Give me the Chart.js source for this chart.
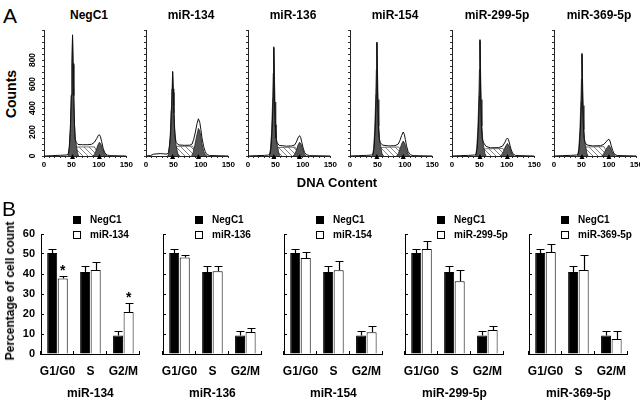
<!DOCTYPE html>
<html>
<head>
<meta charset="utf-8">
<script src="https://cdn.jsdelivr.net/npm/chart.js@4.4.1/dist/chart.umd.min.js"></script>
<style>
  body { margin: 0; background: #fff; width: 640px; height: 403px; position: relative; overflow: hidden;
         font-family: "Liberation Sans", Arial, sans-serif; }
  canvas { position: absolute; }
  .t { position: absolute; white-space: nowrap; transform: translate(-50%, -50%); color: #000; font-weight: bold; line-height: 1; }
  .sq { position: absolute; width: 8px; height: 8px; box-sizing: border-box; border: 1px solid #000; }
</style>
</head>
<body>
<script>
// ---- panel A: DNA content histograms ([DNA content, counts]) ----
const histNames = ['NegC1', 'miR-134', 'miR-136', 'miR-154', 'miR-299-5p', 'miR-369-5p'];
const g1Peaks = [52, 48.5, 47, 49, 51, 51];
const g2Peaks = [101, 95.5, 94, 97, 101, 100];
const histTicks = [0, 200, 400, 600, 800];

const negc1Total = [[0,0],[15,3],[30,6],[40,8],[44,12],[46,70],[48,230],[49.8,510],[51,770],[52,1010],[53,770],[54.2,510],[55.5,270],[57,140],[59,110],[62,96],[70,94],[80,94],[87,98],[92,115],[96,145],[99,172],[101,177],[103,160],[105,120],[108,60],[111,25],[115,8],[120,3],[150,0]];
const negc1G1 = [[44,0],[46,60],[48,220],[49.8,500],[51,760],[52,1000],[53,760],[54.2,500],[55.5,260],[57,130],[59,90],[61,30],[63,0]];
const negc1S = [[55,0],[58,75],[92,76],[100,0]];
const negc1G2 = [[89,0],[92,15],[95,45],[98,90],[101,115],[104,95],[107,55],[110,20],[113,5],[115,0]];

const mir134Total = [[0,0],[8,4],[14,15],[20,18],[26,20],[32,18],[38,16],[41,30],[43,90],[45,200],[46.5,420],[47.5,560],[48.5,705],[49.5,560],[50.5,420],[52,230],[53.5,150],[55,110],[60,92],[70,89],[80,90],[84,100],[87,140],[90,200],[93,270],[95.5,310],[98,280],[100,220],[102,150],[105,80],[108,35],[111,12],[116,4],[150,0]];
const mir134G1 = [[40,0],[42,50],[44,150],[46,380],[47.3,530],[48.5,700],[49.7,530],[51,360],[52.5,200],[54,110],[56,60],[58,20],[60,0]];
const mir134S = [[53,0],[56,80],[85,82],[93,0]];
const mir134G2 = [[83,0],[86,30],[89,90],[92,160],[95.5,230],[98,210],[100,160],[102,100],[105,40],[108,10],[111,0]];

const mir136Total = [[0,0],[15,3],[30,5],[37,8],[40,15],[42,70],[44,230],[45.8,480],[47,910],[48.2,480],[49.4,260],[51,150],[53,110],[57,88],[70,82],[80,84],[85,92],[88,115],[91,150],[94,170],[96,155],[98,115],[100,75],[103,30],[107,10],[112,3],[150,0]];
const mir136G1 = [[39,0],[41,60],[43,200],[44.8,450],[46,690],[47,900],[48,690],[49.2,450],[50.5,240],[52,130],[54,80],[56,25],[58,0]];
const mir136S = [[51,0],[54,70],[86,74],[94,0]];
const mir136G2 = [[82,0],[85,15],[88,45],[91,90],[94,115],[97,95],[100,50],[103,15],[106,0]];

const mir154Total = [[0,0],[15,3],[30,5],[39,8],[42,15],[44,70],[46,240],[47.8,510],[49,950],[50.2,510],[51.4,270],[53,155],[55,110],[60,90],[70,84],[82,86],[88,100],[91,130],[94,170],[97,200],[99,180],[101,135],[103,85],[106,35],[110,10],[115,3],[150,0]];
const mir154G1 = [[41,0],[43,60],[45,210],[46.8,470],[48,720],[49,940],[50,720],[51.2,470],[52.5,250],[54,130],[56,80],[58,25],[60,0]];
const mir154S = [[53,0],[56,72],[89,75],[97,0]];
const mir154G2 = [[85,0],[88,20],[91,55],[94,100],[97,125],[100,100],[103,55],[106,15],[109,0]];

const mir299Total = [[0,0],[15,3],[30,5],[41,8],[44,15],[46,70],[48,240],[49.8,500],[51,970],[52.2,500],[53.4,270],[55,150],[57,115],[59,100],[62,80],[70,68],[85,70],[92,82],[96,110],[99,140],[101,150],[103,135],[105,100],[108,50],[111,18],[116,4],[150,0]];
const mir299G1 = [[43,0],[45,60],[47,210],[48.8,470],[50,720],[51,960],[52,720],[53.2,470],[54.5,250],[56,130],[58,70],[60,20],[62,0]];
const mir299S = [[56,0],[59,60],[93,62],[100,0]];
const mir299G2 = [[88,0],[91,15],[94,40],[97,75],[101,105],[104,85],[107,45],[110,12],[113,0]];

const mir369Total = [[0,0],[15,3],[30,5],[41,8],[44,15],[46,65],[48,220],[49.8,450],[51,855],[52.2,460],[53.4,250],[55,140],[57,110],[60,92],[70,84],[85,86],[91,98],[95,118],[98,135],[100,140],[102,125],[104,90],[107,45],[110,15],[115,4],[150,0]];
const mir369G1 = [[43,0],[45,55],[47,190],[48.8,420],[50,640],[51,845],[52,640],[53.2,420],[54.5,220],[56,120],[58,70],[60,20],[62,0]];
const mir369S = [[55,0],[58,75],[91,78],[99,0]];
const mir369G2 = [[87,0],[90,15],[93,40],[96,65],[100,90],[103,70],[106,35],[109,10],[112,0]];

// ---- panel B: cell cycle percentages ----
const phases = ['G1/G0', 'S', 'G2/M'];
const mirNames = ['miR-134', 'miR-136', 'miR-154', 'miR-299-5p', 'miR-369-5p'];
const pctTicks = [0, 10, 20, 30, 40, 50, 60];
const negc1Pct = [50.5, 41, 9.3];
const negc1Err = [1.8, 3.2, 2.2];
const mir134Pct = [37.7, 42, 21];
const mir134Err = [1.1, 4.1, 4.4];
const mir136Pct = [48.3, 41.4, 11];
const mir136Err = [1, 2.7, 2.2];
const mir154Pct = [48, 41.9, 10.9];
const mir154Err = [2.8, 4.7, 3.3];
const mir299Pct = [52.5, 36.4, 12];
const mir299Err = [3.8, 5.4, 2.2];
const mir369Pct = [51, 42, 7.5];
const mir369Err = [4, 7.6, 3.9];
const starMarks = [[[1, 0], [1, 2]], [], [], [], []];

const histSets = [
  [negc1Total, negc1G1, negc1S, negc1G2],
  [mir134Total, mir134G1, mir134S, mir134G2],
  [mir136Total, mir136G1, mir136S, mir136G2],
  [mir154Total, mir154G1, mir154S, mir154G2],
  [mir299Total, mir299G1, mir299S, mir299G2],
  [mir369Total, mir369G1, mir369S, mir369G2]
];
const mirPct = [mir134Pct, mir136Pct, mir154Pct, mir299Pct, mir369Pct];
const mirErr = [mir134Err, mir136Err, mir154Err, mir299Err, mir369Err];

const FONT = '"Liberation Sans", Arial, sans-serif';
Chart.defaults.font.family = FONT;
Chart.defaults.color = '#000';

function makeCanvas(left, top, w, h) {
  const c = document.createElement('canvas');
  c.width = w; c.height = h;
  c.style.left = left + 'px'; c.style.top = top + 'px';
  document.body.appendChild(c);
  return c;
}

function addText(txt, x, y, size, opts) {
  const d = document.createElement('div');
  d.className = 't';
  d.textContent = txt;
  d.style.left = x + 'px'; d.style.top = y + 'px';
  d.style.fontSize = size + 'px';
  if (opts && opts.normal) d.style.fontWeight = 'normal';
  if (opts && opts.rot) d.style.transform = 'translate(-50%,-50%) rotate(-90deg)';
  if (opts && opts.left) d.style.transform = 'translate(0,-50%)';
  document.body.appendChild(d);
}

// hatch for S phase
const hatchCv = document.createElement('canvas');
hatchCv.width = 5; hatchCv.height = 5;
const hctx = hatchCv.getContext('2d');
hctx.fillStyle = '#fff'; hctx.fillRect(0, 0, 5, 5);
hctx.strokeStyle = '#777'; hctx.lineWidth = 0.9;
hctx.beginPath(); hctx.moveTo(0, 0); hctx.lineTo(5, 5); hctx.moveTo(-1, 4); hctx.lineTo(1, 6); hctx.moveTo(4, -1); hctx.lineTo(6, 1); hctx.stroke();
const hatch = hctx.createPattern(hatchCv, 'repeat');

const histExtras = {
  id: 'histExtras',
  afterDraw(chart, args, opts) {
    const ctx = chart.ctx, xs = chart.scales.x, ys = chart.scales.y;
    const y0 = ys.getPixelForValue(0);
    ctx.save();
    ctx.fillStyle = '#000';
    [g1Peaks[opts.idx], g2Peaks[opts.idx]].forEach(p => {
      const x = xs.getPixelForValue(p);
      ctx.beginPath();
      ctx.moveTo(x, y0 - 2); ctx.lineTo(x - 2.5, y0 + 3); ctx.lineTo(x + 2.5, y0 + 3); ctx.closePath(); ctx.fill();
    });
    if (opts.idx === 0) {
      ctx.font = 'bold 8.5px ' + FONT;
      ctx.textAlign = 'center'; ctx.textBaseline = 'middle';
      histTicks.forEach(v => {
        ctx.save();
        ctx.translate(chart.chartArea.left - 11, ys.getPixelForValue(v));
        ctx.rotate(-Math.PI / 2);
        ctx.fillText(String(v), 0, 0);
        ctx.restore();
      });
    }
    ctx.restore();
  }
};

const errBars = {
  id: 'errBars',
  afterDraw(chart, args, opts) {
    const ctx = chart.ctx, ys = chart.scales.y;
    ctx.save();
    ctx.strokeStyle = '#000'; ctx.lineWidth = 1.2;
    opts.errs.forEach((errs, d) => {
      const meta = chart.getDatasetMeta(d);
      errs.forEach((e, i) => {
        const el = meta.data[i];
        const v = chart.data.datasets[d].data[i];
        const top = Math.round(ys.getPixelForValue(v + e)) + 0.5;
        const x = Math.round(el.x) + 0.5;
        ctx.beginPath();
        ctx.moveTo(x, el.y); ctx.lineTo(x, top);
        ctx.moveTo(x - 4, top); ctx.lineTo(x + 4, top);
        ctx.stroke();
      });
    });
    ctx.fillStyle = '#000';
    ctx.font = 'bold 14px ' + FONT;
    ctx.textAlign = 'center'; ctx.textBaseline = 'alphabetic';
    opts.stars.forEach(([d, i]) => {
      const el = chart.getDatasetMeta(d).data[i];
      const v = chart.data.datasets[d].data[i] + opts.errs[d][i];
      ctx.fillText('*', el.x, ys.getPixelForValue(v) - 1);
    });
    if (opts.yLabels) {
      ctx.font = 'bold 11px ' + FONT;
      ctx.textAlign = 'right'; ctx.textBaseline = 'middle';
      pctTicks.forEach(v => ctx.fillText(String(v), chart.chartArea.left - 6, ys.getPixelForValue(v)));
    }
    ctx.restore();
  }
};

// ---- panel A layout ----
const histTop = 30, histH = 126, histW = 83;
histNames.forEach((name, i) => {
  const left = 43.5 + 102 * i;
  const cv = makeCanvas(Math.round(left) - 20, histTop - 8, 20 + histW + 8, 8 + histH + 16);
  const [tot, g1, s, g2] = histSets[i];
  new Chart(cv, {
    type: 'line',
    data: {
      datasets: [
        { data: tot, borderColor: '#111', borderWidth: 1, fill: false, order: 0 },
        { data: g1, borderColor: '#222', borderWidth: 0.8, backgroundColor: '#555', fill: 'origin', order: 1 },
        { data: g2, borderColor: '#222', borderWidth: 0.8, backgroundColor: '#555', fill: 'origin', order: 2 },
        { data: s, borderColor: '#555', borderWidth: 0.8, backgroundColor: hatch, fill: 'origin', order: 3 }
      ]
    },
    options: {
      animation: false, responsive: false, events: [],
      layout: { padding: { left: 20, right: 8, top: 8, bottom: 0 } },
      elements: { point: { radius: 0 }, line: { tension: 0 } },
      plugins: { legend: { display: false }, tooltip: { enabled: false }, histExtras: { idx: i } },
      scales: {
        x: {
          type: 'linear', min: 0, max: 150,
          afterFit: sc => { sc.height = 16; },
          ticks: { stepSize: 10, autoSkip: false, maxRotation: 0, padding: 2,
                   font: { size: 8, weight: 'bold' }, callback: v => (v % 50 === 0 ? v : '') },
          grid: { drawOnChartArea: false, tickLength: 2, color: '#333' },
          border: { color: '#222' }
        },
        y: {
          min: 0, max: 1050,
          afterFit: sc => { sc.width = 0; },
          ticks: { stepSize: 50, display: false },
          grid: { drawOnChartArea: false, tickLength: 2, color: '#333' },
          border: { color: '#222' }
        }
      }
    },
    plugins: [histExtras]
  });
  addText(name, left + histW / 2 + 4, 15, 12);
});

// ---- panel B layout ----
const barLefts = [41, 163, 284, 405, 529];
const barTop = 234, barH = 120, barW = 105;
mirNames.forEach((name, i) => {
  const left = barLefts[i];
  const cv = makeCanvas(left - 30, barTop - 10, 30 + barW + 6, 10 + barH + 48);
  new Chart(cv, {
    type: 'bar',
    data: {
      labels: phases,
      datasets: [
        { label: 'NegC1', data: negc1Pct, backgroundColor: '#000', borderColor: '#000', borderWidth: 1 },
        { label: name, data: mirPct[i], backgroundColor: '#fff', borderColor: '#000', borderWidth: 1 }
      ]
    },
    options: {
      animation: false, responsive: false, events: [],
      layout: { padding: { left: 30, right: 6, top: 10, bottom: 0 } },
      datasets: { bar: { barPercentage: 0.95, categoryPercentage: 0.64 } },
      plugins: { legend: { display: false }, tooltip: { enabled: false },
                 errBars: { errs: [negc1Err, mirErr[i]], stars: starMarks[i], yLabels: i === 0 } },
      scales: {
        x: {
          afterFit: sc => { sc.height = 48; },
          ticks: { font: { size: 12, weight: 'bold' }, padding: 13, maxRotation: 0, autoSkip: false },
          grid: { drawOnChartArea: false, offset: true, tickLength: -3, color: '#000' },
          border: { color: '#000' },
          title: { display: true, text: name, font: { size: 12, weight: 'bold' }, padding: { top: 0, bottom: 1 } }
        },
        y: {
          min: 0, max: 60,
          afterFit: sc => { sc.width = 0; },
          ticks: { stepSize: 10, display: false },
          grid: { drawOnChartArea: false, tickLength: -3, color: '#000' },
          border: { color: '#000' }
        }
      }
    },
    plugins: [errBars]
  });
  // legend
  const s1 = document.createElement('div');
  s1.className = 'sq'; s1.style.background = '#000';
  s1.style.left = (left + 32) + 'px'; s1.style.top = '216px';
  document.body.appendChild(s1);
  const s2 = document.createElement('div');
  s2.className = 'sq'; s2.style.background = '#fff';
  s2.style.left = (left + 32) + 'px'; s2.style.top = '231px';
  document.body.appendChild(s2);
  addText('NegC1', left + 49, 220, 10, { left: true });
  addText(name, left + 49, 235, 10, { left: true });
});

addText('A', 10, 15, 21, { normal: true });
addText('B', 9, 208, 21, { normal: true });
addText('Counts', 11, 94, 14, { rot: true });
addText('DNA Content', 337, 182, 13);
addText('Percentage of cell count', 10, 291, 12, { rot: true });
</script>
</body>
</html>
